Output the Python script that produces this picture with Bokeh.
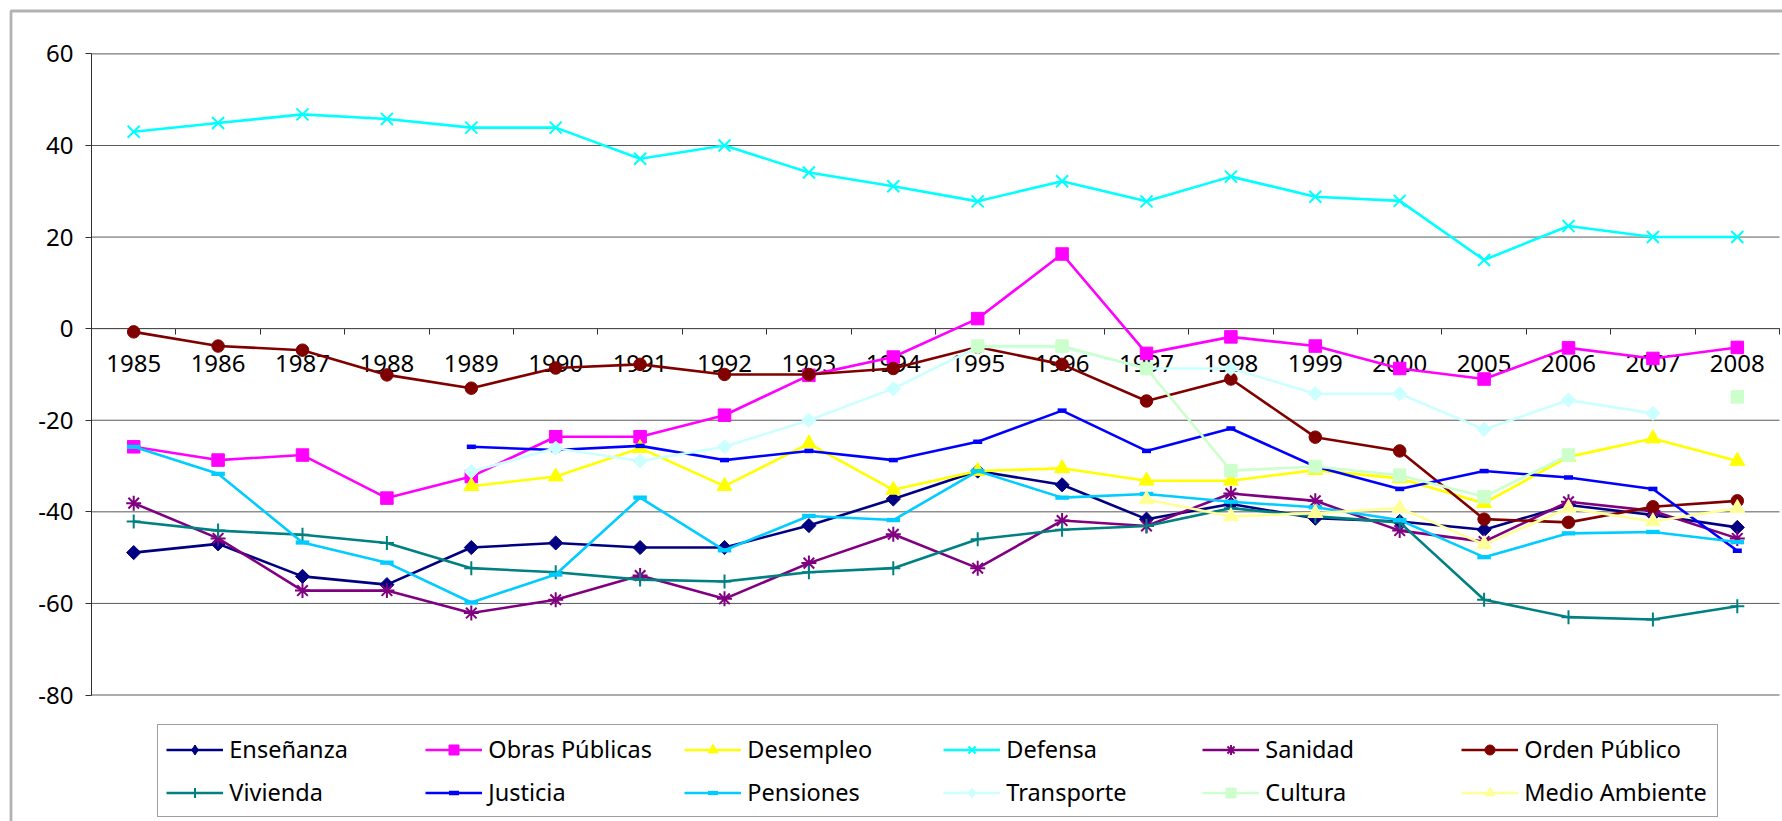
import numpy as np
from bokeh.plotting import figure
from bokeh.models import (Range1d, FixedTicker, Legend, LegendItem, BoxAnnotation,
                          ColumnDataSource, CustomJSTickFormatter)
from bokeh.embed import file_html
from bokeh.resources import INLINE

nan = np.nan

# ---- data -------------------------------------------------------------
years = ["1985", "1986", "1987", "1988", "1989", "1990", "1991", "1992", "1993", "1994",
         "1995", "1996", "1997", "1998", "1999", "2000", "2005", "2006", "2007", "2008"]

y_ticks = [-80, -60, -40, -20, 0, 20, 40, 60]

ensenanza = [-48.9, -47.0, -54.1, -55.9, -47.8, -46.8, -47.8, -47.8, -43.0, -37.2,
             -31.1, -34.1, -41.6, -38.3, -41.4, -42.1, -43.9, -38.5, -40.7, -43.4]
obras_publicas = [-25.8, -28.7, -27.6, -37.0, -32.3, -23.6, -23.6, -18.9, -10.2, -6.2,
                  2.2, 16.3, -5.4, -1.8, -3.8, -8.7, -11.0, -4.2, -6.5, -4.1]
desempleo = [nan, nan, nan, nan, -34.4, -32.3, -26.1, -34.4, -25.1, -35.2,
             -31.1, -30.5, -33.2, -33.2, -30.9, -32.7, -38.1, -28.0, -24.0, -28.9]
defensa = [43.0, 44.9, 46.8, 45.8, 43.9, 43.9, 37.1, 40.0, 34.1, 31.1,
           27.8, 32.2, 27.8, 33.2, 28.8, 27.9, 15.0, 22.4, 20.0, 20.0]
sanidad = [-38.1, -45.8, -57.2, -57.2, -62.1, -59.2, -53.9, -59.0, -51.2, -44.9,
           -52.3, -41.9, -43.1, -36.0, -37.6, -44.1, -46.5, -37.8, -39.8, -45.8]
orden_publico = [-0.7, -3.8, -4.7, -10.1, -13.0, -8.6, -7.8, -10.0, -10.0, -8.7,
                 -4.0, -7.8, -15.8, -11.0, -23.7, -26.7, -41.6, -42.3, -38.9, -37.6]
vivienda = [-42.1, -44.1, -45.0, -46.8, -52.3, -53.2, -54.8, -55.2, -53.2, -52.3,
            -46.0, -43.9, -43.1, -39.2, -41.0, -42.3, -59.2, -63.0, -63.5, -60.6]
justicia = [nan, nan, nan, nan, -25.8, -26.5, -25.6, -28.7, -26.7, -28.7,
            -24.7, -17.9, -26.7, -21.8, -30.1, -35.0, -31.1, -32.5, -35.0, -48.5]
pensiones = [-25.8, -31.7, -46.7, -51.1, -59.8, -53.7, -36.9, -48.4, -40.9, -41.8,
             -31.1, -36.9, -36.1, -37.8, -39.0, -41.8, -49.9, -44.7, -44.4, -46.6]
transporte = [nan, nan, nan, nan, -31.2, -26.1, -28.9, -25.8, -20.0, -13.1,
              -4.0, -4.0, -8.7, -8.7, -14.2, -14.2, -22.0, -15.6, -18.5, nan]
cultura = [nan, nan, nan, nan, nan, nan, nan, nan, nan, nan,
           -3.8, -3.8, -8.7, -31.0, -30.1, -32.0, -36.7, -27.6, nan, -14.9]
medio_ambiente = [nan, nan, nan, nan, nan, nan, nan, nan, nan, nan,
                  nan, nan, -37.3, -41.0, -40.3, -39.2, -47.1, -39.2, -42.1, -39.2]

series = [
    ("Enseñanza", ensenanza),
    ("Obras Públicas", obras_publicas),
    ("Desempleo", desempleo),
    ("Defensa", defensa),
    ("Sanidad", sanidad),
    ("Orden Público", orden_publico),
    ("Vivienda", vivienda),
    ("Justicia", justicia),
    ("Pensiones", pensiones),
    ("Transporte", transporte),
    ("Cultura", cultura),
    ("Medio Ambiente", medio_ambiente),
]

# ---- styling ----------------------------------------------------------
# "diamond" entries are drawn as squares turned 45 degrees
styles = {
    "Enseñanza":      dict(color="#000080", marker="diamond", size=10, lw=1),
    "Obras Públicas": dict(color="#FF00FF", marker="square", size=12.5, lw=1),
    "Desempleo":      dict(color="#FFFF00", marker="triangle", size=15, lw=1),
    "Defensa":        dict(color="#00FFFF", marker="x", size=17, lw=2),
    "Sanidad":        dict(color="#800080", marker="asterisk", size=15, lw=2),
    "Orden Público":  dict(color="#800000", marker="circle", size=12.5, lw=1),
    "Vivienda":       dict(color="#008080", marker="cross", size=14, lw=2),
    "Justicia":       dict(color="#0000FF", marker="dash", size=9, lw=4.5),
    "Pensiones":      dict(color="#00CCFF", marker="dash", size=13.5, lw=4.3),
    "Transporte":     dict(color="#CCFFFF", marker="diamond", size=10, lw=1),
    "Cultura":        dict(color="#CCFFCC", marker="square", size=12.5, lw=1),
    "Medio Ambiente": dict(color="#FFFF99", marker="triangle", size=15, lw=1),
}
LINE_MARKERS = ("x", "asterisk", "cross", "dash")

FONT = "Noto Sans"
W, H = 1782, 821
# plot area inside the chart box (pixels from the top-left corner)
PLOT_LEFT, PLOT_RIGHT, PLOT_TOP, PLOT_BOTTOM = 91.0, 1779.0, 53.4, 694.5

n_slots = len(years)
slot_centres = np.arange(n_slots) + 0.5

# the frame covers the whole canvas; axes are pinned inside it
px_per_slot = (PLOT_RIGHT - PLOT_LEFT) / n_slots
px_per_unit = (PLOT_BOTTOM - PLOT_TOP) / (y_ticks[-1] - y_ticks[0])
x_range = Range1d(-PLOT_LEFT / px_per_slot, (W - PLOT_LEFT) / px_per_slot)
y_range = Range1d(y_ticks[0] - (H - PLOT_BOTTOM) / px_per_unit,
                  y_ticks[-1] + PLOT_TOP / px_per_unit)

p = figure(width=W, height=H, x_range=x_range, y_range=y_range,
           output_backend="svg", toolbar_location=None, title=None,
           min_border=0, min_border_left=0, min_border_right=0,
           min_border_top=0, min_border_bottom=0)
p.outline_line_color = None
p.background_fill_color = "white"
p.border_fill_color = "white"
p.xgrid.visible = False
p.ygrid.visible = False

# horizontal gridlines across the plot area
p.segment(x0=0, x1=n_slots, y0=y_ticks, y1=y_ticks, line_color="#5a5a5a", line_width=1)

# value axis
yax = p.yaxis[0]
yax.fixed_location = 0
yax.bounds = (y_ticks[0], y_ticks[-1])
yax.ticker = FixedTicker(ticks=y_ticks)
yax.formatter = CustomJSTickFormatter(code="return tick.toFixed(0)")
yax.axis_line_color = "#303030"
yax.major_tick_line_color = "#303030"
yax.major_tick_in = 0
yax.major_tick_out = 6
yax.minor_tick_line_color = None
yax.major_label_standoff = 12
yax.major_label_text_font = FONT
yax.major_label_text_font_size = "24px"
yax.major_label_text_color = "black"

# category axis crossing at zero; labels at slot centres, ticks between slots
xax = p.xaxis[0]
xax.fixed_location = 0
xax.bounds = (0, n_slots)
xax.ticker = FixedTicker(ticks=list(slot_centres), minor_ticks=list(range(n_slots + 1)))
xax.formatter = CustomJSTickFormatter(args=dict(labels=years),
                                      code="return labels[Math.floor(tick)]")
xax.axis_line_color = "black"
xax.major_tick_line_color = None
xax.minor_tick_line_color = "#303030"
xax.minor_tick_in = 0
xax.minor_tick_out = 6
xax.major_label_standoff = 20
xax.major_label_text_font = FONT
xax.major_label_text_font_size = "24px"
xax.major_label_text_color = "black"
xax.level = "underlay"

items = []
for name, vals in series:
    st = styles[name]
    src = ColumnDataSource(dict(x=slot_centres, y=np.array(vals, dtype=float)))
    ln = p.line("x", "y", source=src, line_color=st["color"], line_width=2.6)
    marker = st["marker"]
    if marker in LINE_MARKERS:
        mk = p.scatter("x", "y", source=src, marker=marker, size=st["size"],
                       line_color=st["color"], line_width=st["lw"], line_cap="butt")
        legend_renderers = [ln, mk]
    elif marker == "diamond":
        mk = p.scatter("x", "y", source=src, marker="square", angle=np.pi / 4,
                       size=st["size"], fill_color=st["color"], line_color=st["color"],
                       line_width=st["lw"])
        # legend swatch: an upright diamond (legend glyphs ignore the angle);
        # its single point has no position, so nothing of it shows in the plot
        swatch = p.scatter(x=[nan], y=[nan], marker="diamond", size=st["size"],
                           fill_color=st["color"], line_color=st["color"])
        legend_renderers = [ln, swatch]
    else:
        mk = p.scatter("x", "y", source=src, marker=marker, size=st["size"],
                       fill_color=st["color"], line_color=st["color"], line_width=st["lw"])
        legend_renderers = [ln, mk]
    items.append(LegendItem(label=name, renderers=legend_renderers))

legend = Legend(items=items, location=(157.3, 3.7), orientation="horizontal", ncols=6,
                glyph_width=57, glyph_height=25, label_width=185, label_height=25,
                label_standoff=6, spacing=11, padding=8, margin=0,
                border_line_color="#404040", border_line_width=1,
                background_fill_color="white", background_fill_alpha=1,
                label_text_font=FONT, label_text_font_size="23.5px",
                label_text_color="black")
p.add_layout(legend, "center")

# outer chart border
p.add_layout(BoxAnnotation(left=10.5, right=W + 200, top=10.5, bottom=H + 200,
                           left_units="canvas", right_units="canvas",
                           top_units="canvas", bottom_units="canvas",
                           fill_color=None, line_color="black", line_width=2.8,
                           level="overlay"))

open("out.html", "w").write(file_html(p, INLINE))
